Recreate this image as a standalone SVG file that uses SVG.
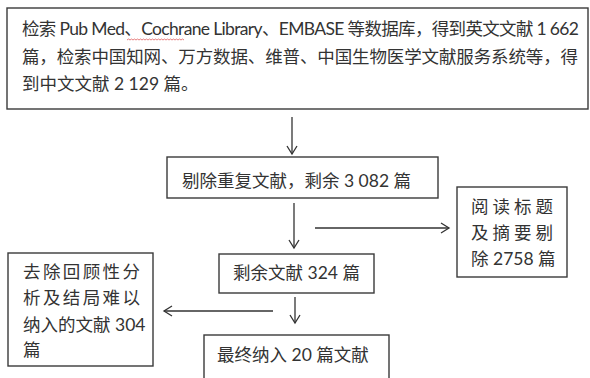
<svg xmlns="http://www.w3.org/2000/svg" width="590" height="378" viewBox="0 0 590 378">
<defs>
<style>
.box{fill:#fff;stroke:#3a3a3a;stroke-width:1.4}
.t{font-family:"Lato","Noto Sans CJK SC",sans-serif;font-size:17.5px;fill:#333}
.c{stroke:#333;stroke-width:1.3;fill:none}
</style>
<marker id="ah" markerUnits="userSpaceOnUse" markerWidth="14" markerHeight="14" refX="9" refY="6" orient="auto">
<path d="M1,1 L9,6 L1,11" fill="none" stroke="#333" stroke-width="1.3"/>
</marker>
</defs>
<rect width="590" height="378" fill="#fff"/>
<g id="n-search">
<rect class="box" x="7" y="8" width="581" height="101"/>
<text class="t" x="22" y="35" textLength="557" lengthAdjust="spacing">检索 Pub Med、Cochrane Library、EMBASE 等数据库，得到英文文献 1 662</text>
<path d="M127,40 l1.5,-1 l1.5,1 l1.5,-1 l1.5,1 l1.5,-1 l1.5,1 l1.5,-1 l1.5,1 l1.5,-1 l1.5,1 l1.5,-1 l1.5,1 l1.5,-1 l1.5,1 l1.5,-1 l1.5,1 l1.5,-1 l1.5,1 l1.5,-1 l1.5,1 l1.5,-1 l1.5,1 l1.5,-1 l1.5,1 l1.5,-1 l1.5,1 l1.5,-1 l1.5,1 l1.5,-1 l1.5,1 l1.5,-1 l1.5,1 l1.5,-1 l1.5,1 l1.5,-1 l1.5,1 l1.5,-1 l1.5,1" fill="none" stroke="#e06060" stroke-width="0.8"/>
<text class="t" x="22" y="63" textLength="556" lengthAdjust="spacing">篇，检索中国知网、万方数据、维普、中国生物医学文献服务系统等，得</text>
<text class="t" x="22" y="90">到中文文献 2 129 篇。</text>
</g>
<g id="n-dedup">
<rect class="box" x="167" y="157" width="271" height="41"/>
<text class="t" x="182" y="187">剔除重复文献，剩余 3 082 篇</text>
</g>
<g id="n-excl1">
<rect class="box" x="457" y="187" width="110" height="90"/>
<text class="t" x="471" y="213" textLength="82" lengthAdjust="spacing">阅读标题</text>
<text class="t" x="471" y="239" textLength="82" lengthAdjust="spacing">及摘要剔</text>
<text class="t" x="471" y="265">除 2758 篇</text>
</g>
<g id="n-remain">
<rect class="box" x="219" y="254" width="155" height="39"/>
<text class="t" x="233" y="279">剩余文献 324 篇</text>
</g>
<g id="n-excl2">
<rect class="box" x="8" y="253" width="145" height="113"/>
<text class="t" x="23" y="278" textLength="117" lengthAdjust="spacing">去除回顾性分</text>
<text class="t" x="23" y="304" textLength="117" lengthAdjust="spacing">析及结局难以</text>
<text class="t" x="23" y="331">纳入的文献 304</text>
<text class="t" x="23" y="356">篇</text>
</g>
<g id="n-final">
<rect class="box" x="204" y="335" width="185" height="60"/>
<text class="t" x="217" y="361">最终纳入 20 篇文献</text>
</g>
<g id="connectors">
<line class="c" x1="292" y1="117" x2="292" y2="154" marker-end="url(#ah)"/>
<line class="c" x1="294" y1="203" x2="294" y2="248" marker-end="url(#ah)"/>
<line class="c" x1="315" y1="228" x2="449" y2="228" marker-end="url(#ah)"/>
<line class="c" x1="295" y1="297" x2="295" y2="323" marker-end="url(#ah)"/>
<line class="c" x1="273" y1="311" x2="164" y2="311" marker-end="url(#ah)"/>
</g>
</svg>
